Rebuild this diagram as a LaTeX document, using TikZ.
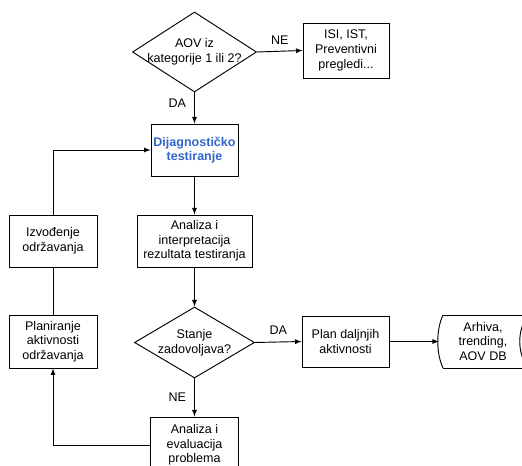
\documentclass[tikz,border=0pt]{standalone}
\usepackage{fontspec}
\setmainfont{Liberation Sans}
\usetikzlibrary{shapes.geometric}
\definecolor{naslov}{RGB}{51,102,204}
\tikzset{
  korak/.style={draw, rectangle, inner sep=0pt, align=center},
  odluka/.style={draw, diamond, inner sep=0pt},
  tekst/.style={align=center, inner sep=0pt}
}
\begin{document}
\begin{tikzpicture}[>=latex, x=0.75pt, y=-0.75pt, line width=0.7pt,
  font=\fontsize{9.4}{11}\selectfont]
% Okvir slike
\useasboundingbox (0,0) rectangle (522,466);
\clip (0,0) rectangle (522,466);
% Odluke
\node[odluka, minimum width=124*0.75pt, minimum height=80*0.75pt,
  label={[tekst]center:AOV iz\\kategorije 1 ili 2?}] (q1) at (194.5,52) {};
\node[odluka, minimum width=120*0.75pt, minimum height=71*0.75pt,
  label={[tekst]center:Stanje\\zadovoljava?}] (q2) at (194.5,342.5) {};
% Koraci
\node[korak, minimum width=86*0.75pt, minimum height=55*0.75pt] (isi) at (346,50.5) {ISI, IST,\\Preventivni\\pregledi...};
\node[korak, minimum width=87*0.75pt, minimum height=52*0.75pt,
  text=naslov, font=\fontsize{9.4}{11}\selectfont\bfseries] (diag) at (194.5,150) {Dijagnostičko\\testiranje};
\node[korak, minimum width=115*0.75pt, minimum height=52*0.75pt] (ana1) at (194.5,241) {Analiza i\\interpretacija\\rezultata testiranja};
\node[korak, minimum width=88*0.75pt, minimum height=52*0.75pt] (izv) at (53,241) {Izvođenje\\održavanja};
\node[korak, minimum width=88*0.75pt, minimum height=53*0.75pt] (pla) at (53,341.5) {Planiranje\\aktivnosti\\održavanja};
\node[korak, minimum width=87*0.75pt, minimum height=51*0.75pt] (plan) at (345.5,341.5) {Plan daljnjih\\aktivnosti};
\node[korak, minimum width=88*0.75pt, minimum height=56*0.75pt] (ana2) at (194.5,445) {Analiza i\\evaluacija\\problema};
% Arhiva (pohranjeni podaci)
\node[tekst, minimum width=88*0.75pt, minimum height=53*0.75pt] (arh) at (483,341.5) {Arhiva,\\trending,\\AOV DB};
\draw (443,315) -- (530,315) (443,368) -- (530,368);
\draw (443,315) .. controls (436,330) and (436,353) .. (443,368);
\draw (528,315) .. controls (517,330) and (517,353) .. (528,368);
% Veze
\draw[->] (q1.south) -- node[pos=0.35, left=6pt, inner sep=0pt] {DA} (diag.north);
\draw[->] (q1.east) -- node[above=5pt, inner sep=0pt] {NE} (isi.west);
\draw[->] (diag.south) -- (ana1.north);
\draw[->] (ana1.south) -- (q2.north);
\draw[->] (q2.east) -- node[above=5pt, inner sep=0pt] {DA} (plan.west);
\draw[->] (plan.east) -- (439,341.5);
\draw[->] (q2.south) -- node[pos=0.5, left=6pt, inner sep=0pt] {NE} (ana2.north);
\draw[->] (ana2.west) -| (pla.south);
\draw (pla.north) -- (izv.south);
\draw[->] (izv.north) |- (diag.west);
\end{tikzpicture}
\end{document}
